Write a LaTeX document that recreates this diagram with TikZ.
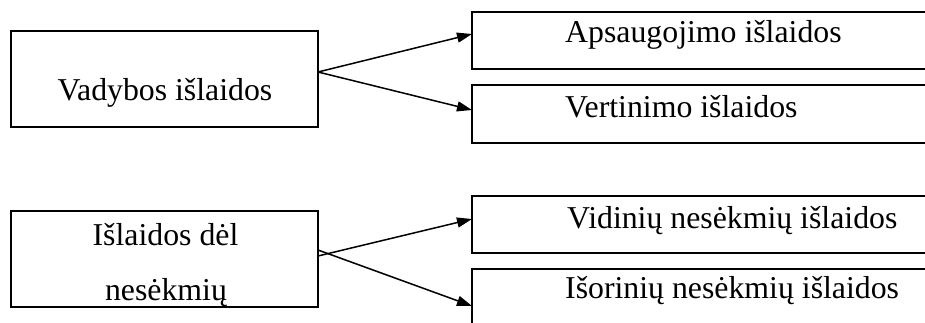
\documentclass[tikz,border=0pt]{standalone}
\usepackage{fontspec}
\setmainfont{Liberation Serif}
\usetikzlibrary{arrows.meta}
\begin{document}
\begin{tikzpicture}[x=1pt,y=1pt,
  box/.style={draw, line width=1.6pt, minimum width=#1, inner sep=0pt, outer sep=0pt},
  box/.default=307pt,
  lbl/.style={inner sep=0pt, font=\fontsize{31.8}{55}\selectfont},
  link/.style={line width=1.5pt, -{Triangle[length=15pt,width=10pt]}}]
\useasboundingbox (0,0) rectangle (925,322);
\clip (0,0) rectangle (925,322);
% left boxes
\node[box, minimum height=96pt] (A) at (164.5,243) {};
\node[box, minimum height=96pt] (D) at (164.5,63) {};
% right boxes, running past the right edge
\node[box=463pt, minimum height=57pt] (B) at (703.5,281.5) {};
\node[box=463pt, minimum height=58pt] (C) at (703.5,208) {};
\node[box=463pt, minimum height=57pt] (E) at (703.5,97.5) {};
\node[box=463pt, minimum height=59pt] (F) at (703.5,23.5) {};
% texts
\node[lbl, anchor=base] (tA) at (165,222) {Vadybos išlaidos};
\node[lbl, anchor=base] (tD1) at (165.5,77) {Išlaidos dėl};
\node[lbl, anchor=base] (tD2) at (166,22) {nesėkmių};
\node[lbl, anchor=base west] (tB) at (565,279) {Apsaugojimo išlaidos};
\node[lbl, anchor=base west] (tC) at (565,205) {Vertinimo išlaidos};
\node[lbl, anchor=base west] (tE) at (567,94) {Vidinių nesėkmių išlaidos};
\node[lbl, anchor=base west] (tF) at (565,24) {Išorinių nesėkmių išlaidos};
% connectors
\draw[link] ([yshift=7pt]A.east) -- ([yshift=6.5pt]B.west);
\draw[link] ([yshift=7pt]A.east) -- ([yshift=4pt]C.west);
\draw[link] ([yshift=3pt]D.east) -- ([yshift=5.5pt]E.west);
\draw[link] ([yshift=9pt]D.east) -- ([yshift=-7.5pt]F.west);
\end{tikzpicture}
\end{document}
